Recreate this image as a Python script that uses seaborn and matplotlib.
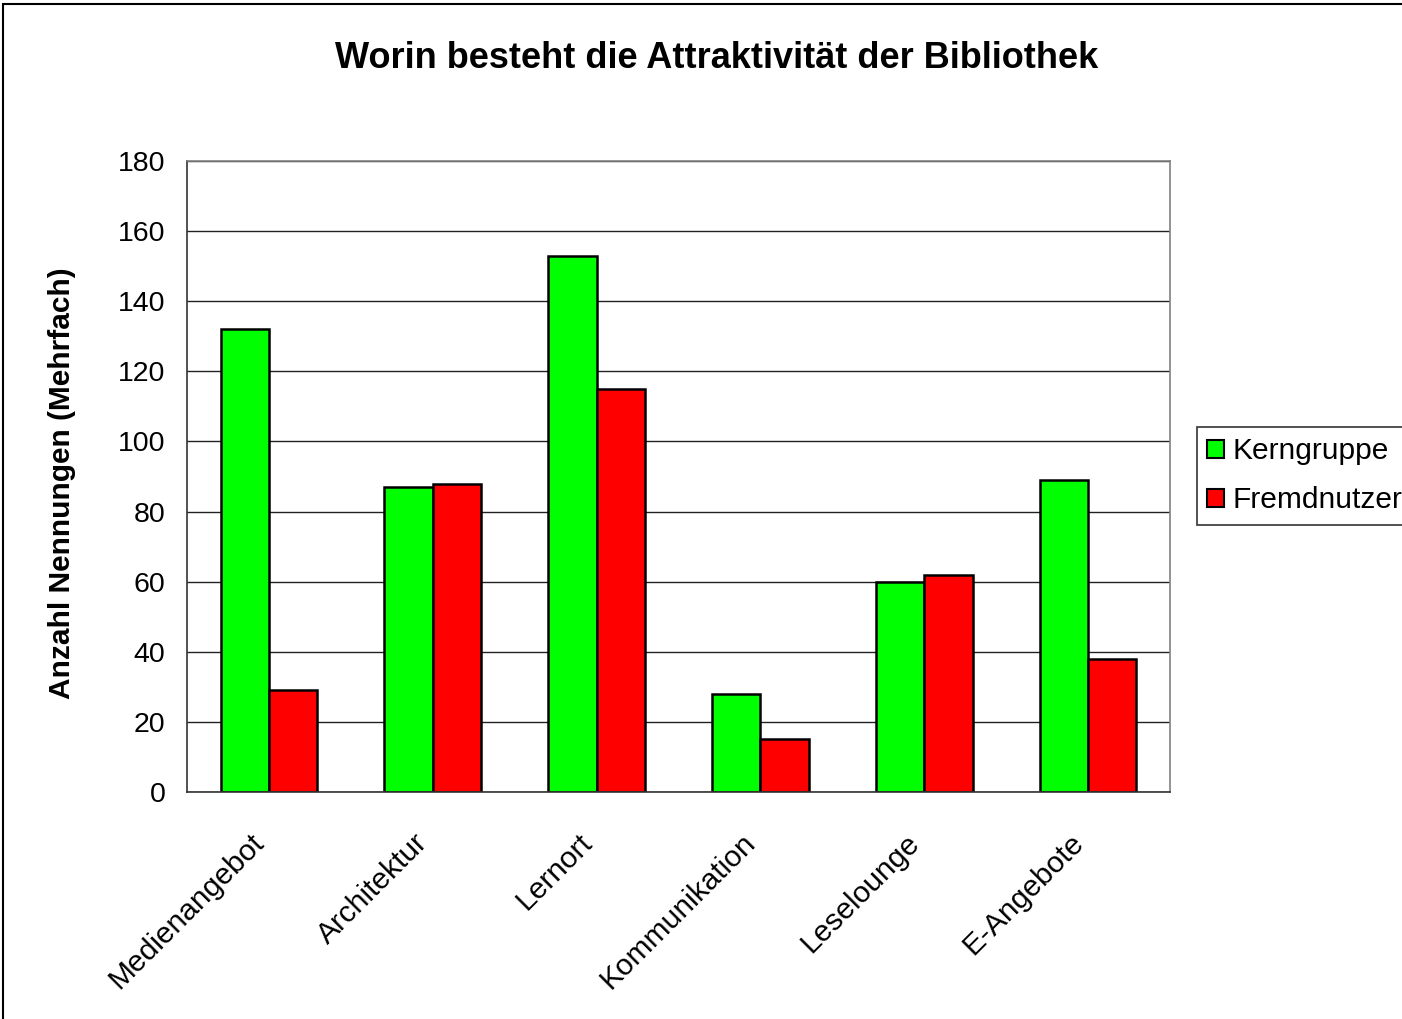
import matplotlib
matplotlib.use("Agg")
import matplotlib.pyplot as plt
import matplotlib.transforms as mtransforms
from matplotlib.patches import Rectangle
import seaborn as sns
import pandas as pd

categories = ["Medienangebot", "Architektur", "Lernort", "Kommunikation", "Leselounge", "E-Angebote"]
kerngruppe = [132, 87, 153, 28, 60, 89]
fremdnutzer = [29, 88, 115, 15, 62, 38]
series_names = ["Kerngruppe", "Fremdnutzer"]
y_ticks = [0, 20, 40, 60, 80, 100, 120, 140, 160, 180]

df = pd.DataFrame({
    "Kategorie": categories * 2,
    "Anzahl": kerngruppe + fremdnutzer,
    "Gruppe": [series_names[0]] * len(categories) + [series_names[1]] * len(categories),
})

sns.set_theme(style="white")
plt.rcParams["font.family"] = ["Liberation Sans", "DejaVu Sans"]
plt.rcParams["text.color"] = "black"
plt.rcParams["axes.labelcolor"] = "black"
plt.rcParams["xtick.color"] = "black"
plt.rcParams["ytick.color"] = "black"

fig = plt.figure(figsize=(14.02, 10.19), dpi=100)
ax = fig.add_axes([187 / 1402, 1 - 792 / 1019, (1170 - 187) / 1402, (792 - 161) / 1019])

sns.barplot(data=df, x="Kategorie", y="Anzahl", hue="Gruppe",
            palette=["#00FF00", "#FF0000"], saturation=1, width=0.59,
            edgecolor="black", linewidth=1.8, ax=ax, legend=True)

ax.set_ylim(0, 180)
ax.set_xlim(-0.5, len(categories) - 0.5)
ax.set_yticks(y_ticks)
ax.set_yticklabels([str(v) for v in y_ticks], fontsize=20.5)
ax.yaxis.grid(True, color="#222222", linewidth=1.0)
ax.set_axisbelow(True)

# category labels at centres, tick marks at category boundaries
ax.set_xticks(range(len(categories)))
ax.set_xticklabels(categories, rotation=45, ha="right", rotation_mode="anchor", fontsize=21.5)
ax.tick_params(axis="x", which="major", length=0, pad=14)
ax.set_xticks([i - 0.5 for i in range(len(categories) + 1)], minor=True)
ax.tick_params(axis="x", which="minor", length=6, width=1.0, color="#444444", direction="out")
ax.tick_params(axis="y", which="major", length=6.5, width=1.0, color="#444444", direction="out", pad=9)

shift = mtransforms.ScaledTranslation(-0.19, -0.17, fig.dpi_scale_trans)
for lbl in ax.get_xticklabels():
    lbl.set_transform(lbl.get_transform() + shift)

ax.set_xlabel("")
ax.set_ylabel("Anzahl Nennungen (Mehrfach)", fontsize=21.5, fontweight="bold")
ax.yaxis.set_label_coords((76 - 187) / 983, 0.49)

for side in ["left", "bottom"]:
    ax.spines[side].set_color("#333333")
    ax.spines[side].set_linewidth(1.2)
for side in ["top", "right"]:
    ax.spines[side].set_color("#808080")
    ax.spines[side].set_linewidth(1.2)

fig.text(0.511, 1 - 59 / 1019, "Worin besteht die Attraktivität der Bibliothek",
         ha="center", va="center", fontsize=26, fontweight="bold")

leg = ax.legend(loc="upper left", bbox_to_anchor=(1197 / 1402, 1 - 427 / 1019),
                bbox_transform=fig.transFigure, borderaxespad=0, fontsize=21.5,
                frameon=True, fancybox=False, edgecolor="black",
                handlelength=0.55, handleheight=0.55, handletextpad=0.3,
                borderpad=0.35, labelspacing=0.7, title=None)
leg.get_frame().set_linewidth(1.2)
for h in leg.legend_handles:
    h.set_edgecolor("black")
    h.set_linewidth(1.5)

# outer chart border
fig.patches.append(Rectangle((3 / 1402, -0.1), 1.2, 1 - 4 / 1019 + 0.1,
                             transform=fig.transFigure, fill=False,
                             edgecolor="black", linewidth=1.5))

fig.savefig("out.png", dpi=100)
